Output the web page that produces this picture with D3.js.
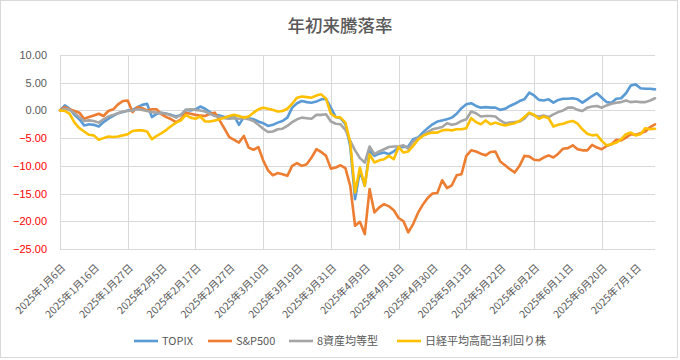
<!DOCTYPE html>
<html><head><meta charset="utf-8">
<script src="https://cdn.jsdelivr.net/npm/d3@7/dist/d3.min.js"></script>
<style>body{margin:0;background:#fff} svg{display:block}</style>
</head><body>
<svg id="chart" width="680" height="360"></svg>
<script>
// ---- data ----
const tickLabels = ["2025年1月6日","2025年1月16日","2025年1月27日","2025年2月5日","2025年2月17日","2025年2月27日",
  "2025年3月10日","2025年3月19日","2025年3月31日","2025年4月9日","2025年4月18日","2025年4月30日",
  "2025年5月13日","2025年5月22日","2025年6月2日","2025年6月11日","2025年6月20日","2025年7月1日"];
const yTicks = [10, 5, 0, -5, -10, -15, -20, -25];
const seriesNames = ["TOPIX", "S&P500", "8資産均等型", "日経平均高配当利回り株"];

const topix = [0,0.9,0.3,-0.8,-1.6,-2.7,-2.5,-2.6,-2.9,-2.1,-1.5,-1.0,-0.5,-0.3,0.0,0.1,0.6,
  1.0,1.2,-1.2,-0.6,-0.4,-0.6,-0.8,-1.1,-0.8,0.1,0.0,0.2,0.7,0.3,-0.3,-0.8,-0.9,-1.2,-1.2,
  -1.0,-2.6,-1.2,-1.4,-1.6,-2.0,-2.3,-2.8,-2.6,-2.2,-1.9,-1.3,0.5,1.3,1.7,1.5,1.4,1.6,2.0,2.1,0.5,-1.2,-1.4,-2.5,
  -6.5,-16.0,-10.9,-13.6,-7.3,-8.2,-7.8,-7.6,-7.9,-7.4,-6.7,-6.6,-6.5,-5.2,-4.9,-4.0,-3.2,-2.5,-2.0,-1.8,-1.6,-1.3,-0.6,
  0.4,1.1,1.3,0.8,0.5,0.6,0.5,0.5,0.1,0.3,0.8,1.2,1.7,2.0,3.2,2.7,1.9,1.8,2.0,1.4,1.9,2.1,2.1,2.2,2.0,1.4,2.0,2.6,3.1,
  2.3,1.5,1.4,2.1,2.2,3.1,4.5,4.7,4.0,3.9,3.9,3.8];
const sp500 = [0,0.6,0.2,-0.1,-0.4,-1.5,-1.2,-0.9,-0.6,-1.0,-0.1,0.2,1.1,1.7,1.8,-0.3,0.6,
  0.4,0.0,0.2,0.2,-0.7,-1.2,-1.6,-2.1,-1.6,-0.4,-0.6,-0.8,-0.9,-1.0,-0.6,-0.4,-1.8,-3.3,-4.8,
  -5.3,-5.8,-4.6,-6.7,-7.1,-6.6,-9.0,-10.8,-11.7,-11.3,-11.5,-11.8,-10.0,-9.5,-10.0,-9.7,-8.5,-7.0,-7.5,-8.2,-10.5,-10.3,-9.9,-10.4,
  -13.6,-20.8,-20.1,-22.3,-14.2,-18.4,-17.5,-16.9,-17.3,-18.0,-19.4,-20.0,-22.0,-20.5,-18.5,-17.0,-15.8,-15.0,-14.9,-12.6,-14.0,-13.5,-11.7,
  -11.5,-8.2,-7.2,-7.4,-7.8,-8.1,-7.5,-7.4,-9.2,-9.9,-10.6,-11.2,-10.0,-8.2,-8.3,-8.9,-9.0,-8.5,-8.1,-8.5,-7.8,-6.9,-6.8,-6.3,-7.0,
  -7.2,-7.2,-6.2,-6.7,-7.0,-6.4,-6.1,-5.3,-5.4,-4.9,-4.3,-4.4,-4.1,-3.8,-3.0,-2.5];
const eightAsset = [0,0.3,0.1,-0.5,-1.2,-1.9,-1.8,-1.9,-2.2,-1.6,-1.1,-0.8,-0.5,-0.2,-0.1,0.0,0.2,
  0.1,-0.1,-0.3,-0.4,-0.5,-0.6,-0.9,-1.3,-0.8,0.1,0.2,0.1,0.0,-0.2,-0.6,-1.0,-1.2,-1.4,-1.5,
  -1.4,-1.5,-1.4,-1.6,-1.9,-2.6,-3.3,-3.9,-3.8,-3.4,-3.3,-2.8,-2.1,-1.6,-1.3,-1.4,-1.5,-0.8,-0.8,-0.7,-2.0,-2.4,-2.5,-3.5,
  -5.5,-7.2,-8.6,-9.4,-6.5,-7.9,-7.4,-7.0,-6.6,-6.5,-6.5,-6.3,-6.9,-5.6,-5.0,-4.5,-3.9,-3.4,-3.2,-3.0,-2.3,-2.6,-2.4,
  -1.9,-1.6,-0.2,-0.5,-1.1,-1.0,-1.0,-1.1,-1.8,-2.3,-2.2,-2.1,-2.0,-1.5,-0.5,-0.9,-1.1,-0.9,-1.2,-0.7,-0.3,0.0,0.5,0.5,0.1,
  -0.1,0.5,0.7,0.8,0.5,0.9,1.2,1.4,1.5,1.8,1.5,1.6,1.5,1.5,1.8,2.2];
const nikkeiHighDiv = [0,-0.1,-0.6,-2.2,-3.2,-3.8,-4.4,-4.5,-5.3,-5.0,-4.7,-4.8,-4.7,-4.5,-4.3,-3.7,-3.6,
  -3.6,-3.8,-5.2,-4.6,-4.1,-3.5,-2.8,-2.2,-1.8,-0.8,-1.3,-1.5,-1.1,-2.0,-2.0,-1.8,-1.6,-1.3,-1.0,
  -0.8,-1.0,-1.3,-1.1,-0.4,0.2,0.5,0.3,0.1,-0.2,-0.1,0.3,1.2,2.3,2.5,2.4,2.3,2.7,2.9,2.1,-0.6,-1.2,-1.3,-2.2,
  -5.8,-14.8,-10.3,-13.6,-7.9,-9.4,-9.0,-8.8,-8.2,-8.8,-6.6,-7.6,-7.4,-6.4,-5.3,-4.6,-4.2,-4.0,-4.0,-3.6,-3.5,-3.6,-3.4,
  -3.4,-3.2,-1.4,-2.1,-2.5,-1.8,-2.5,-2.2,-2.5,-2.7,-2.5,-2.3,-1.9,-1.2,-0.4,-0.8,-1.5,-1.1,-1.4,-2.9,-2.6,-2.4,-2.1,-1.9,-2.4,
  -3.4,-4.2,-4.5,-4.4,-5.5,-6.3,-6.1,-5.8,-5.2,-4.3,-4.0,-4.5,-4.3,-3.2,-3.4,-3.3];

const seriesData = [topix, sp500, eightAsset, nikkeiHighDiv];
const colors = ["#5B9BD5", "#ED7D31", "#A5A5A5", "#FFC000"];

// ---- layout ----
const svg = d3.select("#chart");
const W = 680, H = 360;
const plot = {left: 60, right: 655, top: 55, bottom: 249};
const n = topix.length;
const x = d3.scaleLinear().domain([0, n - 1]).range([plot.left, plot.right]);
const y = d3.scaleLinear().domain([-25, 10]).range([plot.bottom, plot.top]);
const fontJP = "'Noto Sans CJK JP', 'Noto Sans', sans-serif";
const fontNum = "'Liberation Sans', Arial, sans-serif";

svg.append("rect").attr("x", 0.5).attr("y", 0.5).attr("width", W - 3).attr("height", H - 3)
  .attr("fill", "#fff").attr("stroke", "#d9d9d9");

// title
svg.append("text").attr("x", 340).attr("y", 32).attr("text-anchor", "middle")
  .attr("font-family", fontJP).attr("font-size", 17.5).attr("fill", "#595959").attr("font-weight", 500)
  .text("年初来騰落率");

// horizontal grid + y axis
const yAxis = d3.axisLeft(y).tickValues(yTicks).tickSize(-(plot.right - plot.left)).tickPadding(13)
  .tickFormat(d => d3.format(".2f")(d));
const gy = svg.append("g").attr("transform", `translate(${plot.left},0)`).call(yAxis);
gy.select(".domain").remove();
gy.selectAll(".tick line").attr("stroke", "#d9d9d9").attr("shape-rendering", "crispEdges");
gy.selectAll(".tick text").attr("font-family", fontNum).attr("font-size", 11)
  .attr("fill", d => d < 0 ? "#ff0000" : "#595959");

// vertical grid every 14 points
const vTicks = d3.range(0, n, 14);
svg.append("g").selectAll("line").data(vTicks).join("line")
  .attr("x1", d => Math.round(x(d)) + 0.5).attr("x2", d => Math.round(x(d)) + 0.5)
  .attr("y1", plot.top).attr("y2", plot.bottom)
  .attr("stroke", "#d9d9d9");

// x labels every 7 points
const labelIdx = tickLabels.map((_, k) => k * 7);
const xAxis = d3.axisBottom(x).tickValues(labelIdx).tickSize(0)
  .tickFormat((d, k) => tickLabels[k]);
const gx = svg.append("g").attr("transform", `translate(0,${plot.bottom})`).call(xAxis);
gx.select(".domain").remove();
gx.selectAll(".tick text")
  .attr("font-family", fontJP).attr("font-size", 10.3).attr("fill", "#595959")
  .attr("text-anchor", "end").attr("dy", "0.35em").attr("y", 0)
  .attr("transform", "translate(3,17) rotate(-45)");

// lines
const line = d3.line().x((d, i) => x(i)).y(d => y(d));
svg.append("g").selectAll("path").data(seriesData).join("path")
  .attr("d", d => line(d)).attr("fill", "none")
  .attr("stroke", (d, i) => colors[i]).attr("stroke-width", 2.6)
  .attr("stroke-linejoin", "round").attr("stroke-linecap", "round");

// legend
const legendX = [134, 208, 289, 397];
const lg = svg.append("g").selectAll("g").data(seriesNames).join("g")
  .attr("transform", (d, i) => `translate(${legendX[i]},341)`);
lg.append("line").attr("x1", 0).attr("x2", 24).attr("y1", 0).attr("y2", 0)
  .attr("stroke", (d, i) => colors[i]).attr("stroke-width", 2.6);
lg.append("text").attr("x", 28).attr("y", 0).attr("dy", "0.35em")
  .attr("font-family", fontJP).attr("font-size", 11).attr("fill", "#595959")
  .text(d => d);
</script>
</body></html>
